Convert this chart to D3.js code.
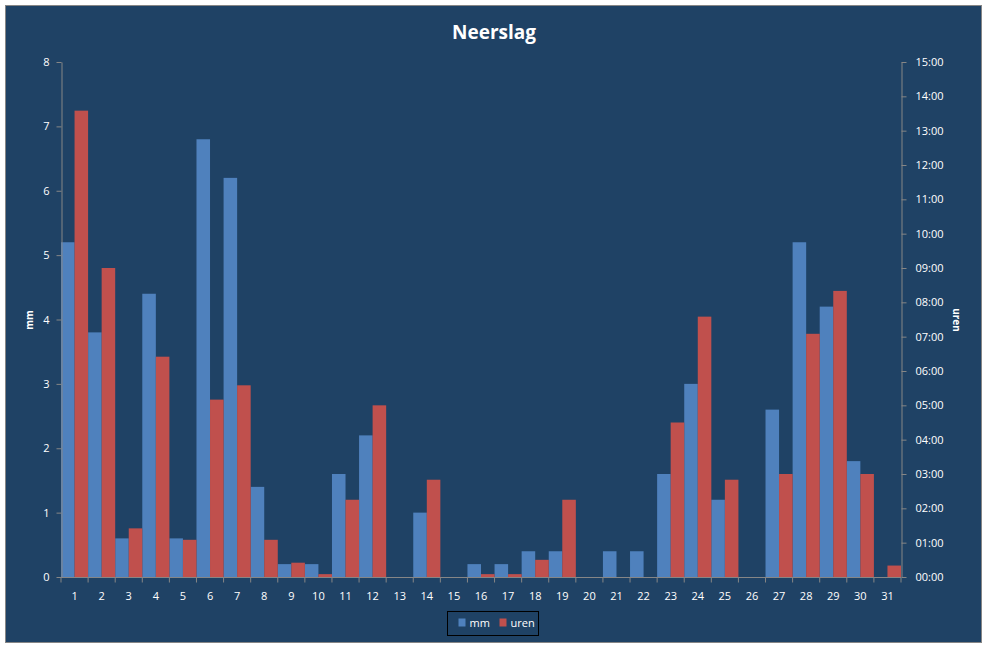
<!DOCTYPE html>
<html>

<head>
    <meta charset="utf-8">
    <title>Neerslag</title>
    <script type="text/javascript" src="https://cdnjs.cloudflare.com/ajax/libs/d3/7.8.5/d3.min.js"></script>
    <style>
        body {
            margin: 0;
            background: #fff;
        }

        .chart text {
            font-family: "Open Sans", "DejaVu Sans", sans-serif;
            fill: #fff;
        }

        .axis path,
        .axis line {
            stroke: #868686;
        }
    </style>
</head>

<body>
    <div class="chart"></div>

    <script type="text/javascript">
        // dagen van de maand
        const days = d3.range(1, 32).map(String)
        // neerslag in mm
        const mm = [5.2, 3.8, 0.6, 4.4, 0.6, 6.8, 6.2, 1.4, 0.2, 0.2, 1.6, 2.2, 0, 1.0, 0, 0.2,
            0.2, 0.4, 0.4, 0, 0.4, 0.4, 1.6, 3.0, 1.2, 0, 2.6, 5.2, 4.2, 1.8, 0]
        // duur van de neerslag (uu:mm)
        const uren = ["13:35", "09:00", "01:25", "06:25", "01:05", "05:10", "05:35", "01:05", "00:25",
            "00:05", "02:15", "05:00", "00:00", "02:50", "00:00", "00:05", "00:05", "00:30", "02:15",
            "00:00", "00:00", "00:00", "04:30", "07:35", "02:50", "00:00", "03:00", "07:05", "08:20",
            "03:00", "00:20"]
        const mmTicks = [0, 1, 2, 3, 4, 5, 6, 7, 8]
        const urenTicks = d3.range(0, 16)

        const toHours = s => {
            const p = s.split(":")
            return +p[0] + p[1] / 60
        }

        var width = 987, height = 648
        var margin = { top: 62, left: 61, right: 86, bottom: 71 }

        var svg = d3.select('.chart').append('svg')
            .attr('width', width)
            .attr('height', height)

        svg.append('rect')
            .attr('x', 5.5).attr('y', 5.5)
            .attr('width', 976).attr('height', 637)
            .attr('fill', '#1f4265')
            .attr('stroke', '#868686')

        var x = d3.scaleBand()
            .domain(days)
            .range([margin.left, width - margin.right])
            .paddingInner(0).paddingOuter(0)

        var xSub = d3.scaleBand()
            .domain(['mm', 'uren'])
            .range([0, x.bandwidth()])

        var yL = d3.scaleLinear().domain([0, 8]).range([height - margin.bottom, margin.top])
        var yR = d3.scaleLinear().domain([0, 15]).range([height - margin.bottom, margin.top])

        // balken
        svg.append('g').selectAll('rect')
            .data(mm)
            .join('rect')
            .attr('x', (d, i) => x(days[i]) + xSub('mm'))
            .attr('y', d => yL(d))
            .attr('width', xSub.bandwidth())
            .attr('height', d => yL(0) - yL(d))
            .attr('fill', '#4f81bd')

        svg.append('g').selectAll('rect')
            .data(uren)
            .join('rect')
            .attr('x', (d, i) => x(days[i]) + xSub('uren'))
            .attr('y', d => yR(toHours(d)))
            .attr('width', xSub.bandwidth())
            .attr('height', d => yR(0) - yR(toHours(d)))
            .attr('fill', '#c0504d')

        // assen
        var gx = svg.append('g')
            .attr('class', 'axis')
            .attr('transform', 'translate(0,' + (height - margin.bottom + 0.5) + ')')
            .call(d3.axisBottom(x).tickSize(0).tickPadding(15))
        gx.select('.domain').attr('d', 'M' + margin.left + ',0H' + (width - margin.right))
        gx.selectAll('.tick text').attr('font-size', 11)
        gx.selectAll('.sep')
            .data(days.concat(['end']))
            .join('line')
            .attr('class', 'sep')
            .attr('x1', (d, i) => i < days.length ? x(d) : x.range()[1])
            .attr('x2', (d, i) => i < days.length ? x(d) : x.range()[1])
            .attr('y1', 0).attr('y2', 5)
            .attr('stroke', '#868686')

        var gl = svg.append('g')
            .attr('class', 'axis')
            .attr('transform', 'translate(' + (margin.left + 0.5) + ',0)')
            .call(d3.axisLeft(yL).tickValues(mmTicks).tickSize(5).tickSizeOuter(0).tickPadding(7))
        gl.selectAll('.tick text').attr('font-size', 11)

        var gr = svg.append('g')
            .attr('class', 'axis')
            .attr('transform', 'translate(' + (width - margin.right + 0.5) + ',0)')
            .call(d3.axisRight(yR).tickValues(urenTicks).tickSize(5).tickSizeOuter(0).tickPadding(9)
                .tickFormat(d => d3.format('02d')(d) + ':00'))
        gr.selectAll('.tick text').attr('font-size', 11)

        svg.selectAll('.axis .tick text').attr('fill', '#fff')

        // titels
        svg.append('text')
            .attr('x', 494).attr('y', 39)
            .attr('text-anchor', 'middle')
            .attr('font-size', 19).attr('font-weight', 'bold')
            .text('Neerslag')

        svg.append('text')
            .attr('transform', 'translate(33,320) rotate(-90)')
            .attr('text-anchor', 'middle')
            .attr('font-size', 10).attr('font-weight', 'bold')
            .text('mm')

        svg.append('text')
            .attr('transform', 'translate(953,320) rotate(90)')
            .attr('text-anchor', 'middle')
            .attr('font-size', 10).attr('font-weight', 'bold')
            .text('uren')

        // legenda
        var legend = svg.append('g').attr('transform', 'translate(447.5,611.5)')
        legend.append('rect')
            .attr('width', 91).attr('height', 24)
            .attr('fill', 'none').attr('stroke', '#000')
        var items = [{ name: 'mm', color: '#4f81bd' }, { name: 'uren', color: '#c0504d' }]
        var li = legend.selectAll('.item')
            .data(items)
            .join('g')
            .attr('class', 'item')
            .attr('transform', (d, i) => 'translate(' + (11 + i * 41) + ',7)')
        li.append('rect').attr('width', 7).attr('height', 8).attr('fill', d => d.color)
        li.append('text').attr('x', 11).attr('y', 8).attr('font-size', 11).text(d => d.name)
    </script>
</body>

</html>
